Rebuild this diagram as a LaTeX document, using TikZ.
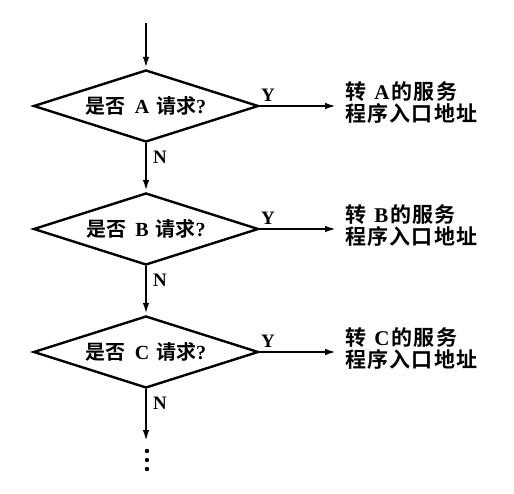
\documentclass[tikz,border=0pt]{standalone}
\usepackage{fontspec}
\setmainfont{Liberation Serif}
\newfontfamily\cjk{Noto Sans CJK SC Bold}
\newfontfamily\cjkw{Noto Sans CJK SC Bold}[LetterSpace=6]
\usetikzlibrary{shapes.geometric,arrows.meta}
\tikzset{
  decision/.style={diamond,draw,line width=2.4pt,minimum width=225pt,minimum height=72pt,inner sep=0pt,aspect=3.125,font=\fontsize{20pt}{22pt}\selectfont},
  target/.style={anchor=west,align=left,inner sep=0pt,font=\fontsize{21pt}{22pt}\selectfont},
  flow/.style={line width=2.4pt,-{Latex[length=12pt,width=6.5pt]}},
  lbl/.style={font=\bfseries\fontsize{19pt}{20pt}\selectfont,inner sep=0pt}
}
\newcommand{\qtext}[1]{{\cjk 是否}\hspace{9pt}\textbf{#1}\hspace{7pt}{\cjk 请求}\textbf{?}}
\newcommand{\ttext}[1]{{\cjkw 转}\hspace{7pt}\textbf{#1}\hspace{2pt}{\cjkw 的服务}\\{\cjkw 程序入口地址}}
\begin{document}
\begin{tikzpicture}[x=1pt,y=-1pt]
\useasboundingbox (0,0) rectangle (514,494);
\coordinate (start) at (146,23);
\node[decision] (dA) at (146,106) {\qtext{A}};
\node[decision] (dB) at (146,229) {\qtext{B}};
\node[decision] (dC) at (146,352) {\qtext{C}};
\node[target] (tA) at (345,103) {\ttext{A}};
\node[target] (tB) at (345,226) {\ttext{B}};
\node[target] (tC) at (345,349) {\ttext{C}};
\coordinate (endC) at (146,442);
\draw[flow] (start) -- (dA.north);
\draw[flow] (dA.south) -- (dB.north);
\draw[flow] (dB.south) -- (dC.north);
\draw[flow] (dC.south) -- (endC);
\draw[flow] (dA.east) -- ([xshift=-8pt]tA.west |- dA.east);
\draw[flow] (dB.east) -- ([xshift=-8pt]tB.west |- dB.east);
\draw[flow] (dC.east) -- ([xshift=-8pt]tC.west |- dC.east);
\node[lbl] (yA) at (268,95) {Y};
\node[lbl] (yB) at (268,218) {Y};
\node[lbl] (yC) at (268,341) {Y};
\node[lbl] (nA) at (160,157) {N};
\node[lbl] (nB) at (160,280) {N};
\node[lbl] (nC) at (160,403) {N};
\fill (147,451) circle (2.2pt) (147,460) circle (2.2pt) (147,469) circle (2.2pt);
\end{tikzpicture}
\end{document}
